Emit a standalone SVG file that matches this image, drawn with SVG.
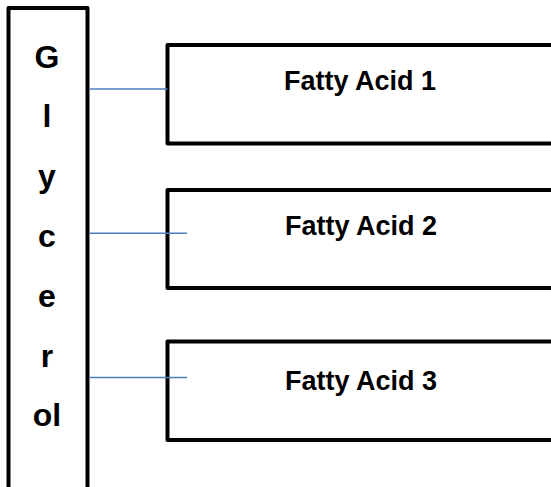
<svg xmlns="http://www.w3.org/2000/svg" width="551" height="487" viewBox="0 0 551 487">
  <style>
    .box { fill: #ffffff; stroke: #000000; stroke-width: 4; stroke-linejoin: round; }
    .label { font-family: "Liberation Sans", Arial, sans-serif; font-weight: bold; font-size: 27px; fill: #000000; text-anchor: middle; }
    .letter { font-size: 32px; }
    .bond { stroke: #4A7EBB; stroke-width: 1.6; fill: none; }
  </style>
  <rect width="551" height="487" fill="#ffffff"/>

  <!-- glycerol backbone, written vertically -->
  <g id="glycerol">
    <rect class="box" x="8.5" y="8" width="79" height="500"/>
    <text class="label letter" x="47" y="68">G</text>
    <text class="label letter" x="47" y="127">l</text>
    <text class="label letter" x="47" y="187">y</text>
    <text class="label letter" x="47" y="247">c</text>
    <text class="label letter" x="47" y="307">e</text>
    <text class="label letter" x="47" y="367">r</text>
    <text class="label letter" x="47" y="426">ol</text>
  </g>

  <g id="fatty-acid-1">
    <rect class="box" x="167.5" y="45" width="400" height="98.5"/>
    <text class="label" x="360" y="90">Fatty Acid 1</text>
  </g>

  <g id="fatty-acid-2">
    <rect class="box" x="167.5" y="190" width="400" height="98"/>
    <text class="label" x="361" y="235">Fatty Acid 2</text>
  </g>

  <g id="fatty-acid-3">
    <rect class="box" x="167.5" y="341.5" width="400" height="98.5"/>
    <text class="label" x="361" y="390">Fatty Acid 3</text>
  </g>

  <!-- ester bonds between glycerol and each chain -->
  <g id="connectors">
    <line class="bond" x1="89.5" y1="89" x2="167.5" y2="89"/>
    <line class="bond" x1="89.5" y1="233.3" x2="187" y2="233.3"/>
    <line class="bond" x1="89.5" y1="377.5" x2="187" y2="377.5"/>
  </g>
</svg>
